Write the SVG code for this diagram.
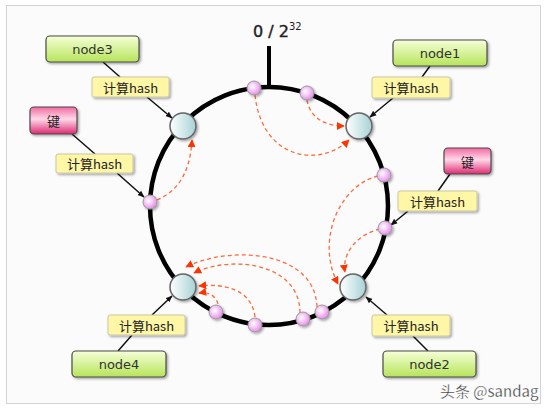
<svg xmlns="http://www.w3.org/2000/svg" width="547" height="409" viewBox="0 0 547 409">
<defs>
<linearGradient id="gGreen" x1="0" y1="0" x2="0" y2="1">
<stop offset="0" stop-color="#f6ffd8"/><stop offset="1" stop-color="#b6e45a"/>
</linearGradient>
<linearGradient id="gPink" x1="0" y1="0" x2="0" y2="1">
<stop offset="0" stop-color="#f26aa2"/><stop offset="0.45" stop-color="#ffd8e8"/><stop offset="1" stop-color="#de2a72"/>
</linearGradient>
<linearGradient id="gNode" x1="0" y1="0" x2="1" y2="0">
<stop offset="0" stop-color="#ffffff"/><stop offset="1" stop-color="#a6d2d6"/>
</linearGradient>
<radialGradient id="gKey" cx="0.4" cy="0.4" r="0.7">
<stop offset="0" stop-color="#ffffff"/><stop offset="1" stop-color="#e37ce8"/>
</radialGradient>
<filter id="sh" x="-20%" y="-20%" width="150%" height="160%">
<feDropShadow dx="1.5" dy="1.5" stdDeviation="0.8" flood-color="#000" flood-opacity="0.35"/>
</filter>
<marker id="aBlk" viewBox="0 0 10 10" refX="9" refY="5" markerWidth="7" markerHeight="7" orient="auto" markerUnits="userSpaceOnUse">
<path d="M0,1 L10,5 L0,9 z" fill="#111"/>
</marker>
<marker id="aRed" viewBox="0 0 10 10" refX="9" refY="5" markerWidth="8" markerHeight="8" orient="auto" markerUnits="userSpaceOnUse">
<path d="M0,0 L10,5 L0,10 z" fill="#ff3300"/>
</marker>
</defs>
<style>
.box{stroke:#4a4a4a;stroke-width:1.2;filter:url(#sh)}
.nbox{fill:url(#gGreen)}
.kbox{fill:url(#gPink)}
.lbl{fill:#fff6a6;stroke:#c8c8a8;stroke-width:1;filter:url(#sh)}
.t{font-family:"DejaVu Sans","Noto Sans CJK SC",sans-serif;font-size:13px;fill:#333;text-anchor:middle;dominant-baseline:central}
.tc{font-family:"Noto Sans CJK SC",sans-serif;font-size:13px;fill:#222;text-anchor:middle;dominant-baseline:central}
.link{stroke:#111;stroke-width:1.5;fill:none}
.dash{stroke:#ff6a3a;stroke-width:1.3;fill:none;stroke-dasharray:4 3;marker-end:url(#aRed)}
.node{fill:url(#gNode);stroke:#666;stroke-width:1.5;filter:url(#sh)}
.key{fill:url(#gKey);stroke:#999;stroke-width:1;filter:url(#sh)}
</style>
<rect x="6.5" y="5.5" width="534" height="398" fill="#fbfbfb" stroke="#d4d4d4" stroke-width="1"/>

<g id="ring">
<circle cx="269" cy="206" r="119" fill="none" stroke="#000" stroke-width="4.5"/>
<line x1="269" y1="46" x2="269" y2="88" stroke="#000" stroke-width="4"/>
<text x="253" y="37" font-family="DejaVu Sans, sans-serif" font-size="16" fill="#222" stroke="#222" stroke-width="0.4">0 / 2<tspan font-size="10" stroke-width="0" dy="-7">32</tspan></text>
</g>

<g id="connectors">
<line class="link" x1="103" y1="62" x2="120" y2="77"/>
<line class="link" x1="147" y1="97" x2="172" y2="118" marker-end="url(#aBlk)"/>
<line class="link" x1="72" y1="134" x2="95" y2="154"/>
<line class="link" x1="117" y1="173" x2="144" y2="197" marker-end="url(#aBlk)"/>
<line class="link" x1="430" y1="66" x2="422" y2="77"/>
<line class="link" x1="393" y1="98" x2="370" y2="117" marker-end="url(#aBlk)"/>
<line class="link" x1="450" y1="174" x2="438" y2="191"/>
<line class="link" x1="408" y1="211" x2="391" y2="225" marker-end="url(#aBlk)"/>
<line class="link" x1="118" y1="351" x2="132" y2="335"/>
<line class="link" x1="152" y1="315" x2="172" y2="296" marker-end="url(#aBlk)"/>
<line class="link" x1="428" y1="351" x2="413" y2="336"/>
<line class="link" x1="387" y1="315" x2="366" y2="297" marker-end="url(#aBlk)"/>

<path class="dash" d="M157,200 C176,192 190,175 192,140"/>
<path class="dash" d="M255,95 C262,160 320,168 349,140"/>
<path class="dash" d="M307,100 C310,118 325,126 344,126"/>
<path class="dash" d="M378,176 C340,185 315,240 338,284"/>
<path class="dash" d="M380,229 C355,235 342,255 345,272"/>
<path class="dash" d="M317,307 C315,250 230,245 186,267"/>
<path class="dash" d="M300,313 C300,262 230,255 194,273"/>
<path class="dash" d="M255,317 C252,290 225,283 199,286"/>
<path class="dash" d="M218,304 C215,293 205,292 199,293"/>
</g>

<g id="ring-nodes">
<circle class="node" cx="183" cy="126" r="13"/>
<circle class="node" cx="359" cy="126" r="13"/>
<circle class="node" cx="183" cy="287" r="13"/>
<circle class="node" cx="353" cy="287" r="13"/>
</g>
<g id="keys-on-ring">
<circle class="key" cx="254" cy="88" r="7"/>
<circle class="key" cx="307" cy="93" r="7"/>
<circle class="key" cx="150" cy="202" r="7"/>
<circle class="key" cx="384" cy="175" r="7"/>
<circle class="key" cx="385" cy="228" r="7"/>
<circle class="key" cx="216" cy="312" r="7"/>
<circle class="key" cx="255" cy="325" r="7"/>
<circle class="key" cx="303" cy="319" r="7"/>
<circle class="key" cx="322" cy="312" r="7"/>
</g>

<g id="node3">
<rect class="box nbox" x="46" y="36" width="93" height="26" rx="4"/>
<text class="t" x="92.5" y="49">node3</text>
</g>
<g id="hash3">
<rect class="lbl" x="92" y="77" width="77" height="20" rx="2"/>
<text class="tc" x="130.5" y="87">计算hash</text>
</g>
<g id="key-left">
<rect class="box kbox" x="30" y="107" width="47" height="27" rx="4"/>
<text class="tc" x="53.5" y="120.5">键</text>
</g>
<g id="hash-key-left">
<rect class="lbl" x="56" y="154" width="77" height="19" rx="2"/>
<text class="tc" x="94.5" y="163.5">计算hash</text>
</g>
<g id="node1">
<rect class="box nbox" x="393" y="40" width="94" height="26" rx="4"/>
<text class="t" x="440" y="53">node1</text>
</g>
<g id="hash1">
<rect class="lbl" x="372" y="77" width="78" height="21" rx="2"/>
<text class="tc" x="411" y="87.5">计算hash</text>
</g>
<g id="key-right">
<rect class="box kbox" x="444" y="148" width="47" height="26" rx="4"/>
<text class="tc" x="467.5" y="161">键</text>
</g>
<g id="hash-key-right">
<rect class="lbl" x="398" y="191" width="79" height="20" rx="2"/>
<text class="tc" x="437.5" y="201">计算hash</text>
</g>
<g id="hash4">
<rect class="lbl" x="108" y="315" width="77" height="20" rx="2"/>
<text class="tc" x="146.5" y="325">计算hash</text>
</g>
<g id="node4">
<rect class="box nbox" x="72" y="351" width="94" height="26" rx="4"/>
<text class="t" x="119" y="364">node4</text>
</g>
<g id="hash2">
<rect class="lbl" x="372" y="315" width="78" height="21" rx="2"/>
<text class="tc" x="411" y="325.5">计算hash</text>
</g>
<g id="node2">
<rect class="box nbox" x="383" y="351" width="93" height="26" rx="4"/>
<text class="t" x="429.5" y="364">node2</text>
</g>

<text x="440" y="397" font-family="Noto Sans CJK SC, sans-serif" font-size="15" fill="#333" stroke="#fff" stroke-width="0.3">头条 @sandag</text>
</svg>
